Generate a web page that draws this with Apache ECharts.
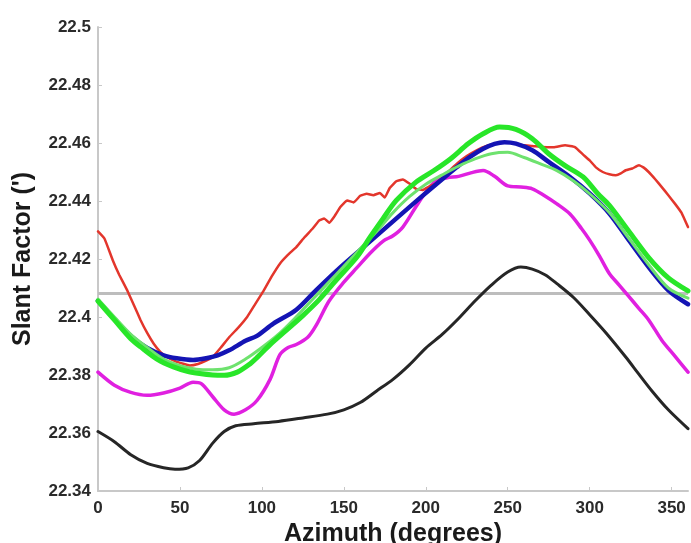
<!DOCTYPE html>
<html>
<head>
<meta charset="utf-8">
<script src="https://cdn.jsdelivr.net/npm/echarts@6/dist/echarts.min.js"></script>
<style>
  html, body { margin: 0; padding: 0; background: #ffffff; }
  #chart { width: 691px; height: 543px; }
</style>
</head>
<body>
<div id="chart"></div>
<script>
// Slant factor versus azimuth for several profiles, plus a constant reference level.

const xTicks = [0, 50, 100, 150, 200, 250, 300, 350];
const yTicks = [22.34, 22.36, 22.38, 22.4, 22.42, 22.44, 22.46, 22.48, 22.5];
const referenceLevel = 22.4081;

const blackAz = [0, 10, 20, 30, 40, 47, 55, 62, 70, 77, 84, 95, 110, 125, 140, 150, 160, 170, 180, 190, 200, 210, 220, 230, 240, 250, 258, 265, 273, 280, 290, 300, 310, 322, 330, 338, 348, 360];
const blackVal = [22.3605, 22.357, 22.3525, 22.3495, 22.348, 22.3475, 22.348, 22.3505, 22.3565, 22.3605, 22.3625, 22.3632, 22.364, 22.3652, 22.3665, 22.368, 22.3705, 22.3745, 22.3785, 22.3835, 22.3893, 22.394, 22.3995, 22.4055, 22.411, 22.4155, 22.4172, 22.4165, 22.4145, 22.4115, 22.4068, 22.4008, 22.3945, 22.3862, 22.3803, 22.3745, 22.368, 22.3615];

const magentaAz = [0, 10, 20, 30, 40, 50, 58, 63, 70, 77, 83, 90, 97, 105, 111, 116, 121, 128, 133, 141, 150, 158, 166, 174, 180, 186, 194, 200, 206, 213, 220, 228, 235, 242, 250, 258, 265, 272, 280, 288, 295, 300, 306, 312, 318, 324, 330, 336, 344, 352, 360];
const magentaVal = [22.381, 22.3765, 22.374, 22.373, 22.3738, 22.3755, 22.3775, 22.377, 22.3725, 22.368, 22.3665, 22.368, 22.3712, 22.3785, 22.387, 22.3895, 22.3905, 22.393, 22.397, 22.4055, 22.412, 22.417, 22.422, 22.4262, 22.428, 22.431, 22.438, 22.443, 22.4468, 22.448, 22.4485, 22.4498, 22.4505, 22.4485, 22.4452, 22.4448, 22.4442, 22.442, 22.439, 22.4355, 22.4305, 22.4265, 22.421, 22.415, 22.411, 22.407, 22.403, 22.399, 22.392, 22.3865, 22.381];

const redAz = [0, 4, 9, 13, 18, 22, 26, 30, 34, 38, 42, 47, 52, 56, 61, 66, 70, 75, 80, 86, 91, 96, 101, 106, 111, 116, 121, 126, 131, 135, 138, 141, 144, 148, 152, 156, 160, 164, 168, 172, 175, 178, 182, 186, 190, 194, 198, 202, 206, 212, 219, 225, 231, 237, 243, 249, 255, 260, 265, 271, 278, 285, 291, 296, 300, 304, 308, 312, 316, 319, 322, 326, 330, 333, 336, 340, 344, 348, 352, 356, 360];
const redVal = [22.4295, 22.427, 22.4196, 22.4145, 22.409, 22.404, 22.3989, 22.3945, 22.3908, 22.388, 22.3862, 22.3848, 22.3839, 22.3833, 22.3838, 22.385, 22.3862, 22.3895, 22.393, 22.3966, 22.4, 22.4045, 22.409, 22.414, 22.4184, 22.4215, 22.4241, 22.4275, 22.4305, 22.4333, 22.434, 22.4325, 22.4345, 22.438, 22.4402, 22.4395, 22.4418, 22.4425, 22.442, 22.4428, 22.4412, 22.4445, 22.4468, 22.4474, 22.446, 22.4442, 22.4438, 22.445, 22.446, 22.4492, 22.4529, 22.4555, 22.4575, 22.459, 22.4598, 22.4602, 22.4598, 22.4592, 22.459, 22.4586, 22.4585, 22.4592, 22.4586, 22.456, 22.454, 22.4515, 22.45, 22.4492, 22.4489, 22.4495, 22.4506, 22.4512, 22.4523, 22.4515, 22.45, 22.4475, 22.4448, 22.442, 22.4391, 22.436, 22.431];

const blueAz = [0, 10, 20, 30, 40, 48, 58, 66, 73, 80, 90, 97, 107, 121, 133, 148, 162, 176, 190, 202, 210, 219, 227, 235, 242, 248, 255, 265, 275, 288, 300, 312, 324, 336, 348, 360];
const blueVal = [22.4056, 22.3993, 22.3935, 22.3893, 22.3868, 22.3858, 22.3852, 22.3858, 22.3868, 22.3885, 22.3918, 22.3935, 22.3977, 22.4025, 22.4092, 22.4172, 22.4241, 22.431, 22.4379, 22.4437, 22.4475, 22.4517, 22.4552, 22.458, 22.4597, 22.4603, 22.4598, 22.4575, 22.4535, 22.4483, 22.4426, 22.4357, 22.4264, 22.4172, 22.4092, 22.4044];

const paleGreenAz = [0, 10, 20, 30, 40, 50, 60, 70, 80, 90, 100, 110, 120, 130, 140, 150, 160, 170, 180, 190, 200, 210, 220, 230, 240, 250, 260, 270, 280, 290, 300, 312, 324, 336, 348, 360];
const paleGreenVal = [22.4062, 22.4, 22.394, 22.3895, 22.3855, 22.3832, 22.382, 22.3818, 22.3825, 22.3855, 22.3895, 22.394, 22.3995, 22.4055, 22.4115, 22.4175, 22.4235, 22.4295, 22.436, 22.4415, 22.4458, 22.449, 22.452, 22.4545, 22.4563, 22.4568, 22.455, 22.4528, 22.4505, 22.447, 22.4425, 22.436, 22.427, 22.418, 22.41, 22.4065];

const greenAz = [0, 10, 20, 26, 36, 46, 55, 62, 70, 77, 85, 92, 97, 105, 115, 125, 135, 145, 158, 166, 174, 182, 194, 205, 215, 226, 235, 245, 255, 265, 275, 285, 296, 305, 312, 324, 336, 348, 360];
const greenVal = [22.4055, 22.399, 22.3925, 22.3897, 22.3855, 22.3828, 22.3812, 22.3805, 22.38, 22.3799, 22.381, 22.3835, 22.386, 22.3905, 22.3955, 22.4005, 22.406, 22.4125, 22.4207, 22.4275, 22.434, 22.4402, 22.4465, 22.4505, 22.4545, 22.4598, 22.4632, 22.4655, 22.4647, 22.4615, 22.4563, 22.4522, 22.4483, 22.4425, 22.4385, 22.4295, 22.4205, 22.4135, 22.409];

const FONT = "'Liberation Sans', Arial, Helvetica, sans-serif";

function pairs(az, vals) {
  return az.map((a, i) => [a, vals[i]]);
}

function curve(name, az, vals, color, width, smooth, z) {
  return {
    name: name,
    type: 'line',
    data: pairs(az, vals),
    showSymbol: false,
    smooth: smooth,
    z: z,
    lineStyle: { color: color, width: width, cap: 'round', join: 'round' },
    emphasis: { disabled: true }
  };
}

const chart = echarts.init(document.getElementById('chart'), null, { renderer: 'canvas' });

chart.setOption({
  animation: false,
  backgroundColor: '#ffffff',
  grid: { left: 98, right: 3, top: 27, bottom: 52, containLabel: false, outerBoundsMode: 'none' },
  xAxis: {
    type: 'value',
    min: 0,
    max: 360,
    interval: 50,
    name: 'Azimuth (degrees)',
    nameLocation: 'middle',
    nameGap: 24,
    nameTextStyle: { fontFamily: FONT, fontWeight: 'bold', fontSize: 25, color: '#1a1a1a' },
    axisLine: { show: true, lineStyle: { color: '#c8c8c8', width: 2 } },
    axisTick: { show: true, inside: true, length: 4, lineStyle: { color: '#c8c8c8' } },
    axisLabel: {
      showMaxLabel: false,
      margin: 9,
      fontFamily: FONT, fontWeight: 'bold', fontSize: 17, color: '#2a2a2a',
      formatter: v => (xTicks.indexOf(v) >= 0 ? String(v) : '')
    },
    splitLine: { show: false }
  },
  yAxis: {
    type: 'value',
    min: yTicks[0],
    max: yTicks[yTicks.length - 1],
    interval: 0.02,
    name: "Slant Factor (')",
    nameLocation: 'middle',
    nameRotate: 90,
    nameGap: 62,
    nameTextStyle: { fontFamily: FONT, fontWeight: 'bold', fontSize: 25, color: '#1a1a1a' },
    axisLine: { show: true, lineStyle: { color: '#c8c8c8', width: 2 } },
    axisTick: { show: true, inside: true, length: 4, lineStyle: { color: '#c8c8c8' } },
    axisLabel: {
      margin: 7,
      fontFamily: FONT, fontWeight: 'bold', fontSize: 17, color: '#2a2a2a',
      formatter: v => String(parseFloat(v.toFixed(2)))
    },
    splitLine: { show: false }
  },
  series: [
    {
      name: 'reference',
      type: 'line',
      data: [[0, referenceLevel], [360, referenceLevel]],
      showSymbol: false,
      z: 1,
      lineStyle: { color: '#bdbdbd', width: 3 },
      emphasis: { disabled: true }
    },
    curve('black', blackAz, blackVal, '#262626', 3, 0.3, 2),
    curve('magenta', magentaAz, magentaVal, '#e020e0', 3.5, 0.3, 3),
    curve('red', redAz, redVal, '#e3362c', 2.5, 0.1, 4),
    curve('blue', blueAz, blueVal, '#1414b4', 4.5, 0.3, 5),
    curve('pale green', paleGreenAz, paleGreenVal, '#6ee26e', 3, 0.3, 6),
    curve('green', greenAz, greenVal, '#28e628', 5, 0.3, 7)
  ]
});
</script>
</body>
</html>
